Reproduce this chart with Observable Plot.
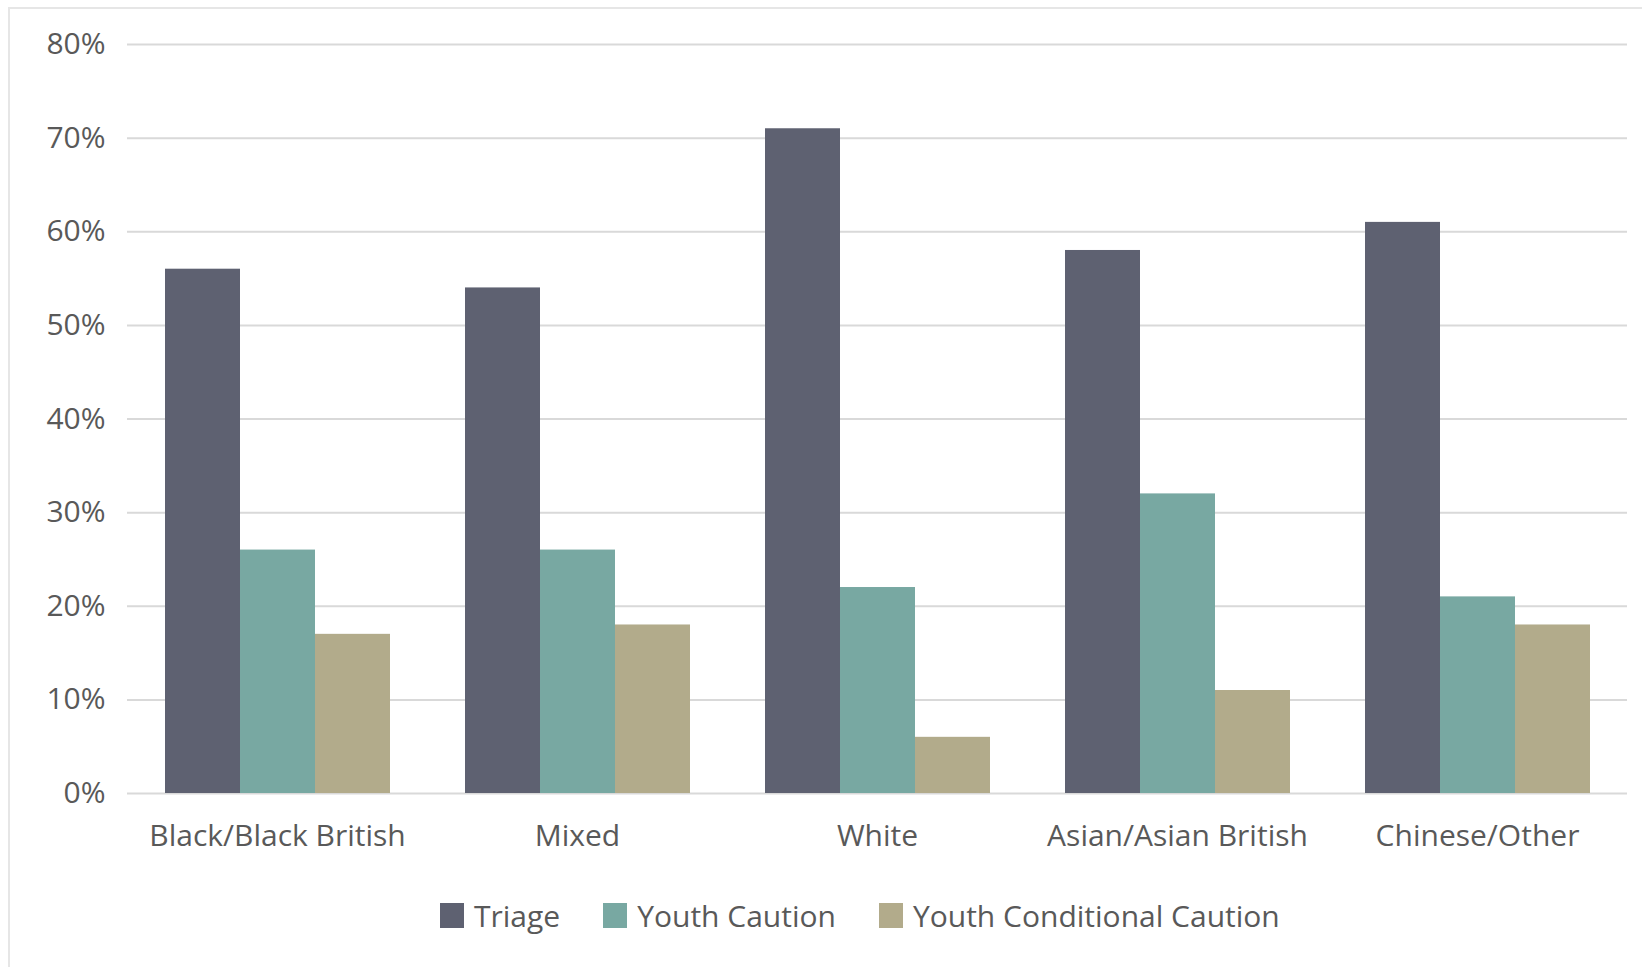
<!DOCTYPE html>
<html>
<head>
<meta charset="utf-8">
<script src="https://cdn.jsdelivr.net/npm/d3@7"></script>
<script src="https://cdn.jsdelivr.net/npm/@observablehq/plot@0.6"></script>
<style>
  html, body { margin: 0; padding: 0; background: #fff; }
  body { width: 1642px; height: 967px; overflow: hidden; position: relative; font-family: "Open Sans", sans-serif; }
  #frame { position: absolute; left: 8px; top: 7px; width: 1700px; height: 1000px; border-left: 2px solid #e6e6e6; border-top: 2px solid #e6e6e6; pointer-events: none; }
  #chart { position: absolute; left: 0; top: 0; }
  #legend { position: absolute; left: 440px; top: 895px; display: flex; align-items: center; font-size: 30px; color: #595959; }
  .item { display: flex; align-items: center; margin-right: 43px; }
  .sw { width: 24px; height: 25px; margin-right: 10px; }
</style>
</head>
<body>
<div id="frame"></div>
<div id="chart"></div>
<div id="legend"></div>
<script>
const categories = ["Black/Black British", "Mixed", "White", "Asian/Asian British", "Chinese/Other"];
const seriesNames = ["Triage", "Youth Caution", "Youth Conditional Caution"];
const triage = [56, 54, 71, 58, 61];
const youthCaution = [26, 26, 22, 32, 21];
const youthConditional = [17, 18, 6, 11, 18];
const colors = ["#5e6171", "#78a8a2", "#b2ab8b"];
const yTicks = [0, 10, 20, 30, 40, 50, 60, 70, 80];

const seriesValues = [triage, youthCaution, youthConditional];
const data = [];
categories.forEach((c, i) => {
  seriesNames.forEach((s, j) => data.push({category: c, series: s, value: seriesValues[j][i]}));
});

const chart = Plot.plot({
  width: 1642,
  height: 870,
  marginLeft: 126,
  marginRight: 14,
  marginTop: 44,
  marginBottom: 77,
  style: {fontSize: "30px", fontFamily: "'Open Sans', sans-serif", color: "#595959", background: "transparent"},
  fx: {domain: categories, padding: 0, label: null, tickSize: 0, tickPadding: 31, axis: "bottom"},
  x: {domain: seriesNames, paddingInner: 0, paddingOuter: 0.5, axis: null},
  y: {domain: [0, 80], ticks: yTicks, tickFormat: d => d + "%", tickSize: 0, tickPadding: 22, label: null},
  color: {domain: seriesNames, range: colors},
  marks: [
    Plot.ruleY(yTicks, {stroke: "#d9d9d9", strokeWidth: 2}),
    Plot.barY(data, {fx: "category", x: "series", y: "value", fill: "series"})
  ]
});
document.getElementById("chart").appendChild(chart);

const legend = document.getElementById("legend");
seriesNames.forEach((s, j) => {
  const item = document.createElement("div");
  item.className = "item";
  const sw = document.createElement("div");
  sw.className = "sw";
  sw.style.background = colors[j];
  const t = document.createElement("span");
  t.textContent = s;
  item.appendChild(sw);
  item.appendChild(t);
  legend.appendChild(item);
});
</script>
</body>
</html>
